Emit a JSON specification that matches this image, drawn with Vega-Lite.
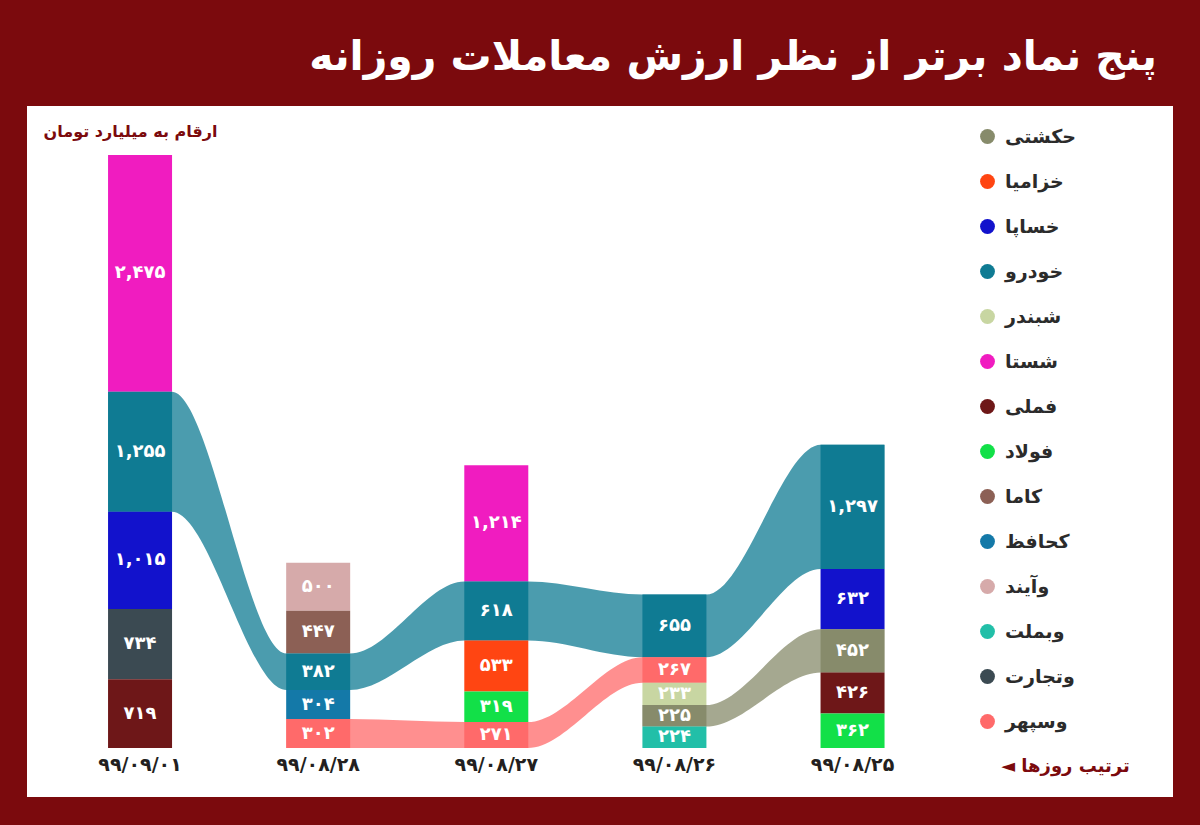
{
  "$schema": "https://vega.github.io/schema/vega-lite/v6.json",
  "width": 1146,
  "height": 691,
  "autosize": {"type": "none"},
  "padding": {"left": 27, "top": 106, "right": 27, "bottom": 28},
  "background": "#7B0A0D",
  "title": {
    "text": "پنج نماد برتر از نظر ارزش معاملات روزانه",
    "anchor": "end",
    "color": "white",
    "font": "DejaVu Sans",
    "fontSize": 41,
    "fontWeight": "bold",
    "offset": 27,
    "dx": -16
  },
  "config": {
    "view": {"fill": "white", "stroke": null},
    "font": "DejaVu Sans",
    "locale": {
      "number": {
        "decimal": ".",
        "thousands": ",",
        "grouping": [3],
        "currency": ["", ""],
        "numerals": ["۰", "۱", "۲", "۳", "۴", "۵", "۶", "۷", "۸", "۹"]
      }
    }
  },
  "data": {
    "values": [
      {"date": "۹۹/۰۹/۰۱", "symbol": "شستا", "value": 2475},
      {"date": "۹۹/۰۹/۰۱", "symbol": "خودرو", "value": 1255},
      {"date": "۹۹/۰۹/۰۱", "symbol": "خساپا", "value": 1015},
      {"date": "۹۹/۰۹/۰۱", "symbol": "وتجارت", "value": 734},
      {"date": "۹۹/۰۹/۰۱", "symbol": "فملی", "value": 719},
      {"date": "۹۹/۰۸/۲۸", "symbol": "وآیند", "value": 500},
      {"date": "۹۹/۰۸/۲۸", "symbol": "کاما", "value": 447},
      {"date": "۹۹/۰۸/۲۸", "symbol": "خودرو", "value": 382},
      {"date": "۹۹/۰۸/۲۸", "symbol": "کحافظ", "value": 304},
      {"date": "۹۹/۰۸/۲۸", "symbol": "وسپهر", "value": 302},
      {"date": "۹۹/۰۸/۲۷", "symbol": "شستا", "value": 1214},
      {"date": "۹۹/۰۸/۲۷", "symbol": "خودرو", "value": 618},
      {"date": "۹۹/۰۸/۲۷", "symbol": "خزامیا", "value": 533},
      {"date": "۹۹/۰۸/۲۷", "symbol": "فولاد", "value": 319},
      {"date": "۹۹/۰۸/۲۷", "symbol": "وسپهر", "value": 271},
      {"date": "۹۹/۰۸/۲۶", "symbol": "خودرو", "value": 655},
      {"date": "۹۹/۰۸/۲۶", "symbol": "وسپهر", "value": 267},
      {"date": "۹۹/۰۸/۲۶", "symbol": "شبندر", "value": 233},
      {"date": "۹۹/۰۸/۲۶", "symbol": "حکشتی", "value": 225},
      {"date": "۹۹/۰۸/۲۶", "symbol": "وبملت", "value": 224},
      {"date": "۹۹/۰۸/۲۵", "symbol": "خودرو", "value": 1297},
      {"date": "۹۹/۰۸/۲۵", "symbol": "خساپا", "value": 632},
      {"date": "۹۹/۰۸/۲۵", "symbol": "حکشتی", "value": 452},
      {"date": "۹۹/۰۸/۲۵", "symbol": "فملی", "value": 426},
      {"date": "۹۹/۰۸/۲۵", "symbol": "فولاد", "value": 362}
    ]
  },
  "transform": [
    {"window": [{"op": "dense_rank", "as": "idx"}], "sort": [{"field": "date", "order": "descending"}]},
    {"stack": "value", "groupby": ["date"], "sort": [{"field": "value", "order": "ascending"}], "as": ["y0", "y1"]}
  ],
  "layer": [
    {
      "transform": [
        {"filter": {"field": "symbol", "oneOf": ["خودرو", "وسپهر", "حکشتی"]}},
        {"calculate": "datum.idx - 0.178", "as": "left"},
        {"calculate": "datum.idx + 0.178", "as": "right"},
        {"fold": ["left", "right"], "as": ["edge", "xe"]}
      ],
      "mark": {"type": "area", "interpolate": "monotone", "opacity": 0.75},
      "encoding": {
        "x": {"field": "xe", "type": "quantitative", "scale": {"domain": [0.3934, 6.771], "nice": false, "zero": false},
          "axis": {"title": "◄ ترتیب روزها", "labels": false, "ticks": false, "domain": false, "grid": false, "titleX": 1038, "titleY": -31, "titleAlign": "center", "titleBaseline": "middle", "titleColor": "#7B0A0D", "titleFont": "DejaVu Sans", "titleFontSize": 18, "titleFontWeight": "bold"}},
        "y": {"field": "y0", "type": "quantitative", "stack": null, "scale": {"domain": [-512, 6710], "nice": false, "zero": false},
          "axis": {"title": "ارقام به میلیارد تومان", "labels": false, "ticks": false, "domain": false, "grid": false, "titleX": 103, "titleY": 25, "titleAngle": 0, "titleAlign": "center", "titleBaseline": "middle", "titleColor": "#7B0A0D", "titleFont": "DejaVu Sans", "titleFontSize": 16, "titleFontWeight": "bold"}},
        "y2": {"field": "y1"},
        "color": {"field": "symbol", "type": "nominal",
          "scale": {
            "domain": ["حکشتی", "خزامیا", "خساپا", "خودرو", "شبندر", "شستا", "فملی", "فولاد", "کاما", "کحافظ", "وآیند", "وبملت", "وتجارت", "وسپهر"],
            "range": ["#878B6B", "#FF4512", "#1212CC", "#0F7B93", "#C8D6A2", "#F01CC0", "#6E1718", "#12E048", "#8C6055", "#1479A8", "#D6AAAA", "#22BFA8", "#3B4A52", "#FF6A6A"]
          },
          "legend": {"title": null, "orient": "none", "legendX": 951, "legendY": 21, "direction": "vertical", "symbolType": "circle", "symbolSize": 220, "symbolOpacity": 1, "symbolStrokeWidth": 0, "labelFontSize": 19, "labelFontWeight": "bold", "labelColor": "#2B2B2B", "labelFont": "DejaVu Sans", "rowPadding": 25, "labelOffset": 8, "padding": 0}
        }
      }
    },
    {
      "mark": {"type": "bar", "size": 64},
      "encoding": {
        "x": {"field": "idx", "type": "quantitative", "scale": {"domain": [0.3934, 6.771], "nice": false, "zero": false},
          "axis": {"title": "◄ ترتیب روزها", "labels": false, "ticks": false, "domain": false, "grid": false, "titleX": 1038, "titleY": -31, "titleAlign": "center", "titleBaseline": "middle", "titleColor": "#7B0A0D", "titleFont": "DejaVu Sans", "titleFontSize": 18, "titleFontWeight": "bold"}},
        "y": {"field": "y0", "type": "quantitative", "stack": null, "scale": {"domain": [-512, 6710], "nice": false, "zero": false},
          "axis": {"title": "ارقام به میلیارد تومان", "labels": false, "ticks": false, "domain": false, "grid": false, "titleX": 103, "titleY": 25, "titleAngle": 0, "titleAlign": "center", "titleBaseline": "middle", "titleColor": "#7B0A0D", "titleFont": "DejaVu Sans", "titleFontSize": 16, "titleFontWeight": "bold"}},
        "y2": {"field": "y1"},
        "color": {"field": "symbol", "type": "nominal",
          "scale": {
            "domain": ["حکشتی", "خزامیا", "خساپا", "خودرو", "شبندر", "شستا", "فملی", "فولاد", "کاما", "کحافظ", "وآیند", "وبملت", "وتجارت", "وسپهر"],
            "range": ["#878B6B", "#FF4512", "#1212CC", "#0F7B93", "#C8D6A2", "#F01CC0", "#6E1718", "#12E048", "#8C6055", "#1479A8", "#D6AAAA", "#22BFA8", "#3B4A52", "#FF6A6A"]
          },
          "legend": {"title": null, "orient": "none", "legendX": 951, "legendY": 21, "direction": "vertical", "symbolType": "circle", "symbolSize": 220, "symbolOpacity": 1, "symbolStrokeWidth": 0, "labelFontSize": 19, "labelFontWeight": "bold", "labelColor": "#2B2B2B", "labelFont": "DejaVu Sans", "rowPadding": 25, "labelOffset": 8, "padding": 0}
        }
      }
    },
    {
      "transform": [{"calculate": "(datum.y0 + datum.y1) / 2", "as": "mid"}],
      "mark": {"type": "text", "color": "white", "font": "DejaVu Sans", "fontSize": 18, "fontWeight": "bold", "baseline": "middle", "align": "center"},
      "encoding": {
        "x": {"field": "idx", "type": "quantitative"},
        "y": {"field": "mid", "type": "quantitative"},
        "text": {"field": "value", "type": "quantitative", "format": ","}
      }
    },
    {
      "transform": [{"aggregate": [{"op": "min", "field": "y0", "as": "base"}], "groupby": ["date", "idx"]}],
      "mark": {"type": "text", "color": "#231F20", "font": "DejaVu Sans", "fontSize": 19, "fontWeight": "bold", "baseline": "middle", "align": "center", "dy": 17},
      "encoding": {
        "x": {"field": "idx", "type": "quantitative"},
        "y": {"field": "base", "type": "quantitative"},
        "text": {"field": "date", "type": "nominal"}
      }
    }
  ]
}
